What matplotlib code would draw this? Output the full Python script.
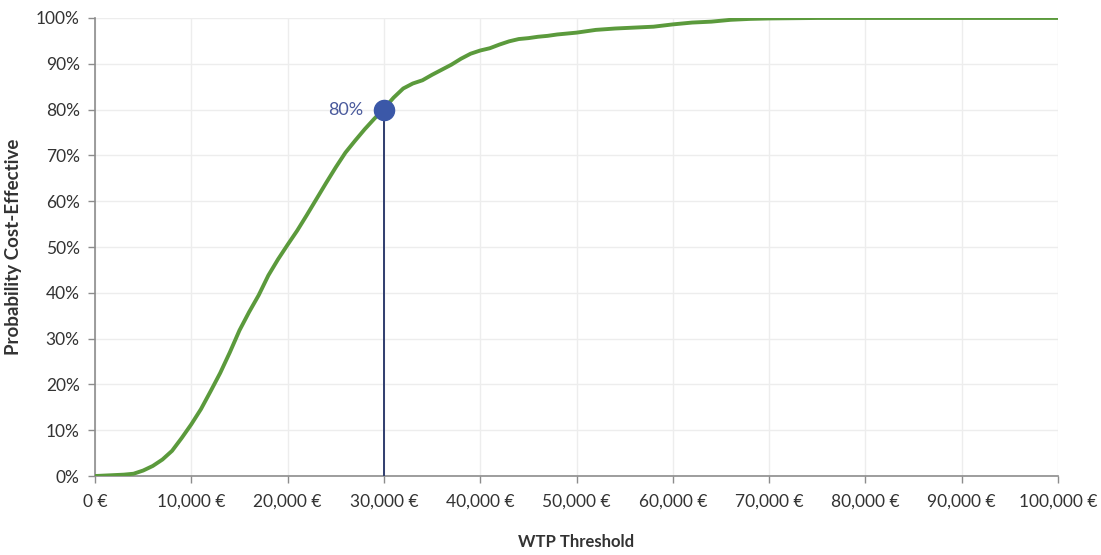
import matplotlib
matplotlib.use("Agg")
import matplotlib.pyplot as plt
from matplotlib.ticker import FuncFormatter, MultipleLocator

# -----------------------------
# Data (CEAC curve)
# -----------------------------
wtp = [0, 1000, 2000, 3000, 4000, 5000, 6000, 7000, 8000, 9000,
       10000, 11000, 12000, 13000, 14000, 15000, 16000, 17000, 18000, 19000,
       20000, 21000, 22000, 23000, 24000, 25000, 26000, 27000, 28000, 29000,
       30000, 31000, 32000, 33000, 34000, 35000, 36000, 37000, 38000, 39000,
       40000, 41000, 42000, 43000, 44000, 45000, 46000, 47000, 48000, 49000,
       50000, 52000, 54000, 56000, 58000, 60000, 62000, 64000, 66000, 68000,
       70000, 75000, 80000, 85000, 90000, 95000, 100000]
prob = [0.0, 0.1, 0.2, 0.3, 0.5, 1.2, 2.2, 3.6, 5.5, 8.3,
        11.3, 14.6, 18.5, 22.5, 27.0, 31.8, 35.8, 39.5, 43.8, 47.3,
        50.5, 53.6, 57.0, 60.5, 64.0, 67.4, 70.6, 73.2, 75.7, 78.0,
        80.2, 82.6, 84.6, 85.7, 86.4, 87.6, 88.7, 89.8, 91.1, 92.2,
        92.9, 93.4, 94.2, 94.9, 95.4, 95.6, 95.9, 96.1, 96.4, 96.6,
        96.8, 97.4, 97.7, 97.9, 98.1, 98.6, 99.0, 99.2, 99.6, 99.8,
        99.9, 100.0, 100.0, 100.0, 100.0, 100.0, 100.0]

marker_x = 30000
marker_y = 80
marker_label = "80%"

x_ticks = list(range(0, 100001, 10000))

# -----------------------------
# Plot
# -----------------------------
plt.rcParams['font.family'] = ['Lato', 'DejaVu Sans']
text_col = '#333333'

fig = plt.figure(figsize=(11.01, 5.55), dpi=100)
ax = fig.add_axes([0.0863, 0.1423, 0.8747, 0.8253])

ax.plot(wtp, prob, color='#5b9a3c', lw=2.8, solid_capstyle='round', zorder=3)

# vertical drop line + marker at the 80% point
ax.plot([marker_x, marker_x], [0, marker_y], color='#2f3d6e', lw=1.4, zorder=4)
ax.scatter([marker_x], [marker_y], s=210, color='#3b58a8', zorder=5)
ax.annotate(marker_label, (marker_x, marker_y), xytext=(-15, 0),
            textcoords='offset points', ha='right', va='center',
            fontsize=13, color='#4a5a9c')

ax.set_xlim(0, 100000)
ax.set_ylim(0, 100)
ax.set_xticks(x_ticks)
ax.yaxis.set_major_locator(MultipleLocator(10))
ax.xaxis.set_major_formatter(FuncFormatter(lambda v, p: f"{int(v):,} €"))
ax.yaxis.set_major_formatter(FuncFormatter(lambda v, p: f"{int(v)}%"))

ax.grid(True, color='#ededed', lw=1.0, zorder=0)
for side in ['top', 'right']:
    ax.spines[side].set_visible(False)
for side in ['left', 'bottom']:
    ax.spines[side].set_color('#8c8c8c')
    ax.spines[side].set_linewidth(1.2)

ax.tick_params(axis='both', colors='#8c8c8c', length=5, width=1.0,
               labelcolor=text_col, labelsize=12.5)
ax.tick_params(axis='x', pad=8)
ax.tick_params(axis='y', pad=6)

ax.set_xlabel("WTP Threshold", fontsize=12, fontweight='bold',
              color=text_col, labelpad=17)
ax.set_ylabel("Probability Cost-Effective", fontsize=13.5, fontweight='bold',
              color=text_col, labelpad=10)

fig.savefig("out.png", dpi=100, facecolor='white')
